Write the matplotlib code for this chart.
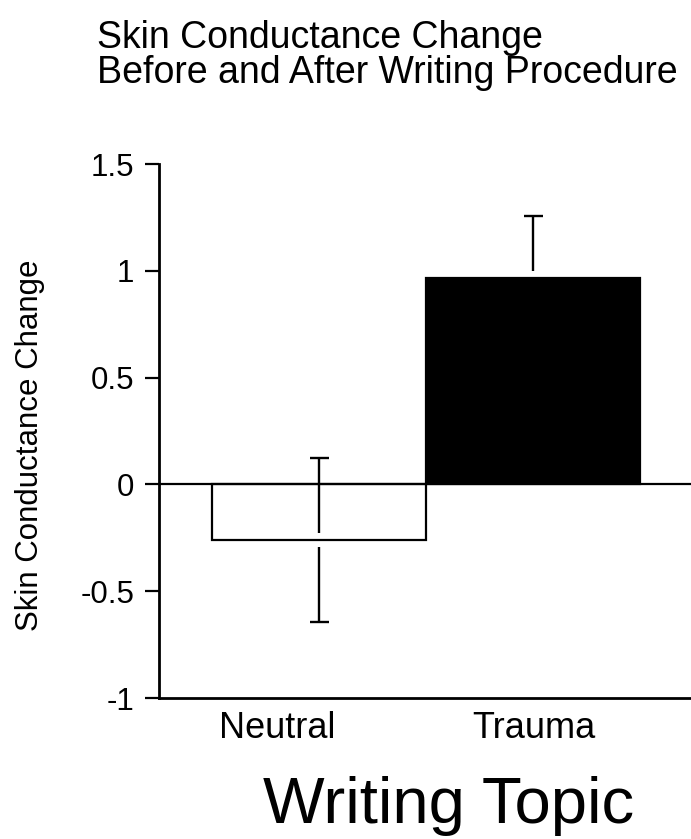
import matplotlib
matplotlib.use('agg')
import matplotlib.pyplot as plt

# values
topics = ["Neutral", "Trauma"]
means = [-0.26, 0.965]
errors = [0.385, 0.293]
bar_colors = ["white", "black"]
yticks = [-1, -0.5, 0, 0.5, 1, 1.5]
ytick_labels = ["-1", "-0.5", "0", "0.5", "1", "1.5"]

plt.rcParams['font.family'] = ['Liberation Sans', 'DejaVu Sans']

fig = plt.figure(figsize=(6.91, 8.39), dpi=100)
ax = fig.add_axes([159 / 691, 141 / 839, 532 / 691, 534 / 839])

xs = list(range(len(topics)))
ax.bar(xs, means, width=1.0, color=bar_colors, edgecolor="black",
       linewidth=1.6, zorder=2)
ax.axhline(0, color="black", linewidth=1.6, zorder=3)

# error bars, with a small gap where they meet the bar edge
gap = 0.032
cap = 0.043
for x, m, e in zip(xs, means, errors):
    ax.vlines(x, m + gap, m + e, color="black", linewidth=1.7, zorder=4)
    ax.vlines(x, m - gap, m - e, color="black", linewidth=1.7, zorder=4)
    ax.hlines([m + e, m - e], x - cap, x + cap, color="black",
              linewidth=1.7, zorder=4)

ax.set_xlim(-0.75, 1.736)
ax.set_ylim(-1, 1.5)
ax.set_yticks(yticks, ytick_labels, fontsize=22.5)
ax.set_xticks([-0.2, 1], topics, fontsize=26)
ax.tick_params(axis="y", length=10, width=1.6, pad=8)
ax.tick_params(axis="x", length=0, pad=9)

for side in ["top", "right"]:
    ax.spines[side].set_visible(False)
for side in ["left", "bottom"]:
    ax.spines[side].set_linewidth(2.0)

fig.text(30 / 691, 1 - 445 / 839, "Skin Conductance Change", fontsize=22.5,
         rotation=90, ha="center", va="center")
fig.text(449 / 691, 1 - 806 / 839, "Writing Topic", fontsize=47,
         ha="center", va="center")

fig.text(97 / 691, 1 - 38 / 839, "Skin Conductance Change", fontsize=27,
         ha="left", va="center")
fig.text(97 / 691, 1 - 73 / 839, "Before and After Writing Procedure",
         fontsize=27, ha="left", va="center")

fig.savefig("out.png", dpi=100)
